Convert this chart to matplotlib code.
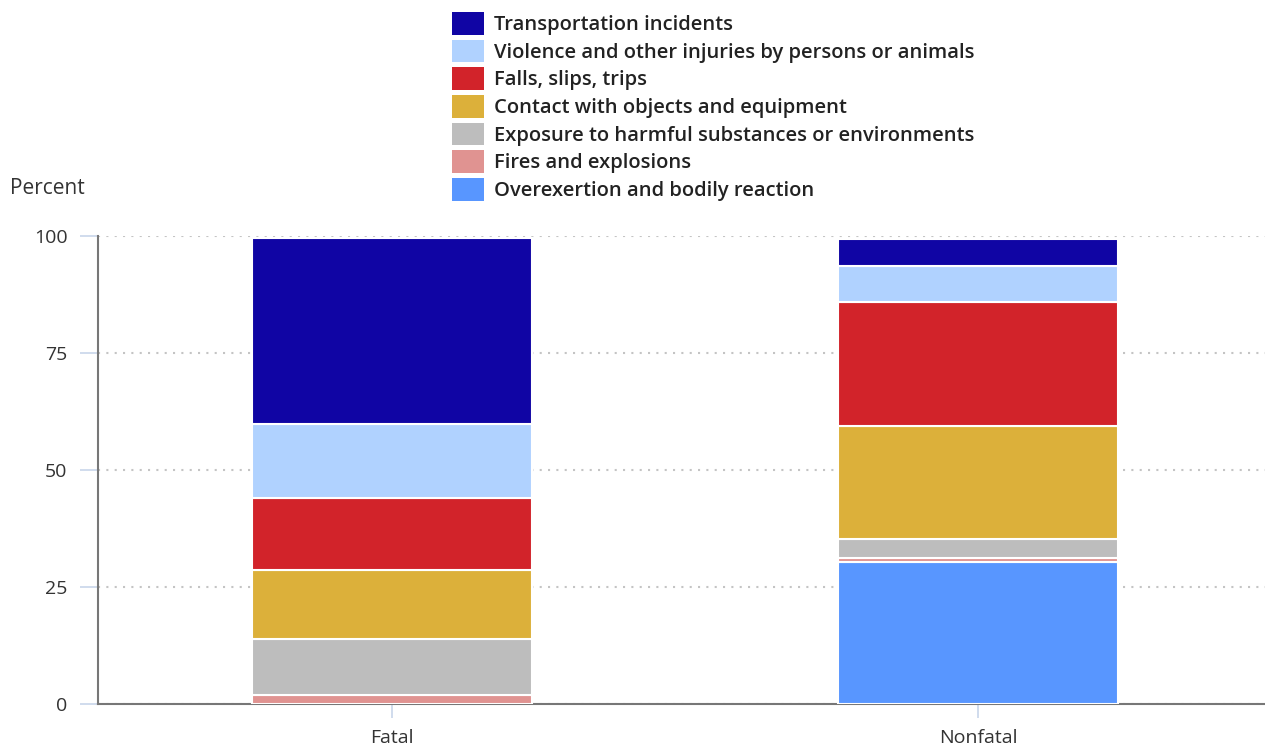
import numpy as np
import matplotlib.pyplot as plt
from matplotlib.patches import Patch

plt.rcParams['font.family'] = ['Open Sans', 'DejaVu Sans']

categories = ['Fatal', 'Nonfatal']
# stacked bottom -> top
series = ['Overexertion and bodily reaction',
          'Fires and explosions',
          'Exposure to harmful substances or environments',
          'Contact with objects and equipment',
          'Falls, slips, trips',
          'Violence and other injuries by persons or animals',
          'Transportation incidents']
values = {
    'Overexertion and bodily reaction': [0.0, 30.4],
    'Fires and explosions': [2.0, 0.9],
    'Exposure to harmful substances or environments': [11.9, 4.0],
    'Contact with objects and equipment': [14.8, 24.0],
    'Falls, slips, trips': [15.3, 26.7],
    'Violence and other injuries by persons or animals': [15.9, 7.6],
    'Transportation incidents': [39.6, 5.8],
}
colors = {
    'Overexertion and bodily reaction': '#5896ff',
    'Fires and explosions': '#e09391',
    'Exposure to harmful substances or environments': '#bdbdbd',
    'Contact with objects and equipment': '#dcb03a',
    'Falls, slips, trips': '#d2232a',
    'Violence and other injuries by persons or animals': '#b0d2ff',
    'Transportation incidents': '#1005a4',
}
yticks = [0, 25, 50, 75, 100]

fig = plt.figure(figsize=(12.65, 7.46), dpi=100)
ax = fig.add_axes([0.0775, 0.0563, 0.9225, 0.6273])

x = np.arange(len(categories))
bottom = np.zeros(len(categories))
for s in series:
    v = np.array(values[s])
    ax.bar(x, v, 0.478, bottom=bottom, color=colors[s], edgecolor='white',
           linewidth=1.5, label=s, zorder=3)
    bottom += v

ax.set_xlim(-0.502, 1.49)
ax.set_ylim(0, 100)
ax.set_yticks(yticks)
ax.set_xticks(x)
ax.set_xticklabels(categories)
ax.tick_params(axis='y', length=13, width=1.2, color='#c8d6ea', labelsize=14,
               labelcolor='#333333', pad=9)
ax.tick_params(axis='x', length=10, width=1.2, color='#c8d6ea', labelsize=14,
               labelcolor='#333333', pad=8)
ax.grid(axis='y', color='#c4c4c4', linestyle=(0, (1, 3)), linewidth=1.5, zorder=0)
for sp in ['top', 'right']:
    ax.spines[sp].set_visible(False)
for sp in ['left', 'bottom']:
    ax.spines[sp].set_color('#777777')
    ax.spines[sp].set_linewidth(1.5)

fig.text(10 / 1265, 1 - 188 / 746, 'Percent', fontsize=15, color='#333333',
         va='center', ha='left')

handles = [Patch(facecolor=colors[s], edgecolor='none') for s in series[::-1]]
leg = fig.legend(handles, series[::-1], loc='upper left',
                 bbox_to_anchor=(442 / 1265, 1 - 2 / 746), frameon=False,
                 prop={'size': 14.5, 'weight': 'semibold'},
                 handlelength=1.6, handleheight=1.35, labelspacing=0.23,
                 handletextpad=0.5, borderpad=0.0)
for t in leg.get_texts():
    t.set_color('#222222')

fig.savefig('out.png', dpi=100)
